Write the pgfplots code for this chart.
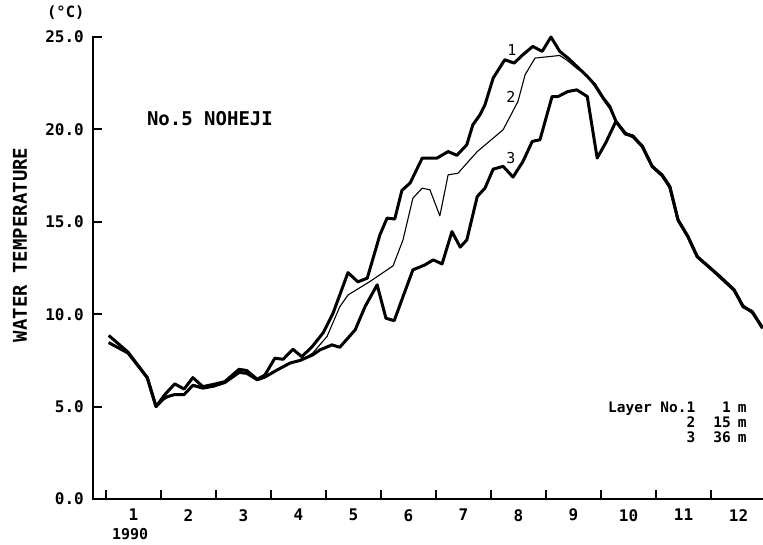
\documentclass[border=0pt]{standalone}
\usepackage{fontspec}
\setmainfont{DejaVu Sans Mono}
\usepackage{pgfplots}
\usepackage{pgfplotstable}
\pgfplotsset{compat=1.18}

% Water temperature at station No.5 Noheji, 1990
% month: 0 = 1 January, 1 = 1 February, ...
\pgfplotstableread{
month temp
0.05 8.46
0.40 7.90
0.75 6.57
0.91 5.00
1.07 5.65
1.25 6.23
1.42 5.95
1.58 6.57
1.76 6.08
1.95 6.20
2.16 6.35
2.42 7.02
2.56 6.95
2.75 6.48
2.89 6.71
3.07 7.62
3.22 7.56
3.40 8.10
3.56 7.70
3.75 8.25
3.95 9.00
4.13 10.07
4.40 12.25
4.58 11.75
4.75 11.95
4.98 14.29
5.11 15.20
5.25 15.15
5.38 16.70
5.53 17.10
5.75 18.45
6.02 18.45
6.22 18.80
6.38 18.60
6.56 19.17
6.67 20.25
6.80 20.79
6.89 21.33
7.04 22.78
7.25 23.77
7.42 23.59
7.58 24.04
7.76 24.49
7.93 24.22
8.09 25.00
8.25 24.22
8.40 23.86
8.56 23.41
8.75 22.87
8.89 22.41
9.04 21.70
9.16 21.24
9.27 20.45
9.44 19.76
9.58 19.65
9.75 19.07
9.93 18.00
10.11 17.54
10.25 16.91
10.40 15.10
10.58 14.20
10.75 13.12
10.95 12.58
11.13 12.13
11.42 11.32
11.58 10.41
11.75 10.14
11.93 9.26
}\layerA

\pgfplotstableread{
month temp
0.05 8.50
0.40 7.90
0.75 6.57
0.91 5.00
1.07 5.40
1.25 5.70
1.42 5.70
1.58 6.20
1.76 6.05
1.95 6.15
2.16 6.30
2.42 6.80
2.56 6.85
2.75 6.50
2.89 6.65
3.11 7.00
3.35 7.36
3.53 7.45
3.76 7.90
4.02 8.80
4.25 10.40
4.40 11.04
4.80 11.77
5.22 12.62
5.40 14.02
5.58 16.28
5.75 16.82
5.89 16.73
6.07 15.32
6.22 17.54
6.40 17.63
6.75 18.80
7.22 19.98
7.49 21.51
7.62 22.96
7.80 23.86
8.25 24.00
8.40 23.70
8.56 23.30
8.75 22.90
8.89 22.30
9.04 21.60
9.16 21.10
9.27 20.40
9.44 19.70
9.58 19.60
9.75 19.00
9.93 18.05
10.11 17.45
10.25 16.80
10.40 15.10
10.58 14.15
10.75 13.10
10.95 12.55
11.13 12.15
11.42 11.35
11.58 10.35
11.75 10.20
11.93 9.20
}\layerB

\pgfplotstableread{
month temp
0.05 8.85
0.40 7.95
0.75 6.57
0.91 5.00
1.07 5.50
1.25 5.65
1.42 5.65
1.58 6.15
1.76 6.00
1.95 6.10
2.16 6.30
2.42 6.85
2.56 6.80
2.75 6.45
2.89 6.60
3.11 6.98
3.35 7.36
3.53 7.50
3.76 7.80
3.89 8.07
4.11 8.34
4.25 8.21
4.53 9.15
4.71 10.41
4.93 11.59
5.09 9.78
5.24 9.65
5.40 10.95
5.58 12.40
5.80 12.67
5.95 12.94
6.11 12.72
6.29 14.47
6.44 13.63
6.56 14.02
6.75 16.37
6.89 16.82
7.04 17.85
7.22 18.00
7.40 17.42
7.58 18.26
7.75 19.35
7.89 19.44
8.11 21.78
8.22 21.78
8.40 22.05
8.56 22.14
8.75 21.78
8.93 18.45
9.09 19.30
9.27 20.43
9.44 19.80
9.58 19.60
9.75 19.10
9.93 18.00
10.11 17.50
10.25 16.90
10.40 15.10
10.58 14.20
10.75 13.10
10.95 12.60
11.13 12.10
11.42 11.30
11.58 10.45
11.75 10.10
11.93 9.30
}\layerC

\begin{document}
\begin{tikzpicture}
\useasboundingbox (-93pt,-45pt) rectangle (670pt,499pt);
\begin{axis}[
  anchor=south west, at={(0pt,0pt)},
  scale only axis, width=670pt, height=462pt,
  xmin=-0.236, xmax=11.945, ymin=0, ymax=25,
  axis x line=bottom, axis y line=left,
  axis line style={-, line width=2.4pt, line cap=rect},
  tick align=inside,
  major tick length=9pt,
  tick style={black, line width=2pt},
  xtick={0,...,11}, xticklabels={},
  extra x ticks={0.5,1.5,...,11.5},
  extra x tick labels={1,2,3,4,5,6,7,8,9,10,11,12},
  extra x tick style={major tick length=0pt,
    xticklabel style={anchor=north, inner sep=0pt, yshift=-10pt}},
  ytick={0,5,...,25},
  yticklabel style={anchor=east, inner sep=0pt, xshift=-9pt,
    /pgf/number format/.cd, fixed, fixed zerofill, precision=1},
  /pgf/number format/assume math mode=true,
  every tick label/.append style={font=\bfseries\fontsize{16}{16}\selectfont},
  ylabel={WATER TEMPERATURE},
  ylabel style={at={(axis description cs:-0.109,0.55)}, anchor=center,
    font=\bfseries\fontsize{19}{19}\selectfont},
  clip=false,
]
\addplot[black, line width=3pt, line join=round, no markers] table[x=month, y=temp] {\layerA};
\addplot[black, line width=1.1pt, line join=round, no markers] table[x=month, y=temp] {\layerB};
\addplot[black, line width=3pt, line join=round, no markers] table[x=month, y=temp] {\layerC};

\node[font=\bfseries\fontsize{15.5}{15.5}\selectfont] at (axis cs:-0.73,26.3) {(°C)};
\node[font=\bfseries\fontsize{19}{19}\selectfont] at (axis cs:1.89,20.6) {No.5 NOHEJI};
\node[anchor=north, inner sep=0pt, font=\bfseries\fontsize{15}{15}\selectfont]
  at (axis cs:0.44,-1.58) {1990};

\node[font=\fontsize{15}{15}\selectfont] at (axis cs:7.38,24.31) {1};
\node[font=\fontsize{15}{15}\selectfont] at (axis cs:7.36,21.77) {2};
\node[font=\fontsize{15}{15}\selectfont] at (axis cs:7.36,18.46) {3};

\node[anchor=north east, inner sep=0pt, font=\bfseries\fontsize{14.5}{14}\selectfont]
  at (axis cs:11.65,5.25) {%
  \begin{tabular}{@{}r@{\hspace{18pt}}r@{\hspace{7pt}}l@{}}
  Layer No.1 & 1 & m\\
  2 & 15 & m\\
  3 & 36 & m
  \end{tabular}};
\end{axis}
\end{tikzpicture}
\end{document}
